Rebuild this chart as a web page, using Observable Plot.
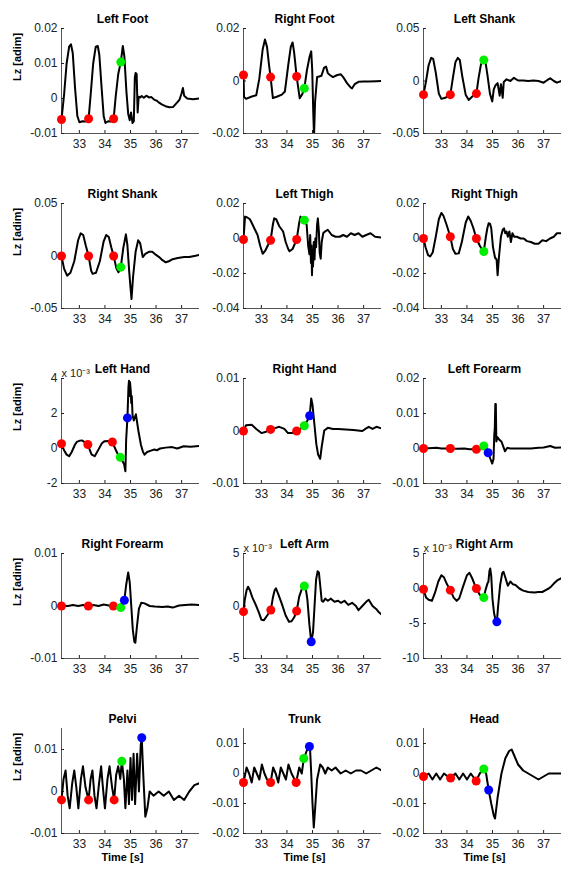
<!DOCTYPE html>
<html><head><meta charset="utf-8">
<script src="https://cdn.jsdelivr.net/npm/d3@7"></script>
<script src="https://cdn.jsdelivr.net/npm/@observablehq/plot@0.6"></script>
<style>
body{margin:0;background:#fff;font-family:"Liberation Sans",Arial,sans-serif;}
#root{position:relative;width:561px;height:869px;overflow:hidden;background:#fff;}
.panel{position:absolute;}
</style></head><body><div id="root"></div>
<script>
// ---- shared axis values ----
const xTicks = [33, 34, 35, 36, 37];
const xDomain = [32.3, 37.7];
const eventKinds = ["e1", "e2", "e3"]; // red, green, blue markers

// ---- Left Foot ----
const leftFootTicks = [-0.01, 0, 0.01, 0.02];
const leftFoot = [[32.3,-0.006],[32.4,0.001],[32.5,0.01],[32.6,0.0148],[32.67,0.0155],[32.74,0.013],[32.83,0.003],[32.92,-0.005],[33.0,-0.0068],[33.12,-0.0065],[33.25,-0.0066],[33.36,-0.0058],[33.44,0.001],[33.54,0.01],[33.64,0.0148],[33.72,0.015],[33.78,0.0125],[33.87,0.003],[33.95,-0.005],[34.02,-0.007],[34.12,-0.0065],[34.22,-0.0066],[34.34,-0.0058],[34.42,0.0005],[34.52,0.007],[34.62,0.0104],[34.7,0.015],[34.76,0.012],[34.84,0.002],[34.91,-0.0044],[34.97,-0.0062],[35.02,-0.004],[35.08,-0.007],[35.13,-0.0065],[35.17,0.006],[35.2,0.0073],[35.24,0.007],[35.28,-0.004],[35.32,0.0005],[35.38,0.0003],[35.44,0.0007],[35.52,0.0002],[35.62,0.0008],[35.72,0.0003],[35.82,0.0004],[35.92,-0.0003],[36.02,-0.0006],[36.12,-0.0012],[36.22,-0.0017],[36.37,-0.0022],[36.52,-0.0025],[36.67,-0.0024],[36.82,-0.0012],[36.92,-0.0003],[37.0,0.0015],[37.05,0.003],[37.1,0.0008],[37.22,0.0],[37.45,-0.0002],[37.7,0.0]];
const leftFootEvents = [["e1",32.3,-0.006],["e1",33.36,-0.0058],["e1",34.34,-0.0058],["e2",34.62,0.0104]];

// ---- Right Foot ----
const rightFootTicks = [-0.02, 0, 0.02];
const rightFoot = [[32.3,0.0023],[32.32,-0.006],[32.4,-0.0068],[32.6,-0.006],[32.8,-0.0054],[32.92,0.001],[33.05,0.012],[33.14,0.0158],[33.22,0.013],[33.3,0.006],[33.36,0.0015],[33.45,-0.0065],[33.6,-0.006],[33.8,-0.0052],[33.92,-0.004],[34.05,0.006],[34.15,0.013],[34.22,0.0147],[34.28,0.011],[34.38,0.0017],[34.5,-0.0066],[34.6,-0.005],[34.68,-0.0028],[34.78,0.004],[34.88,0.009],[34.95,0.0113],[34.99,0.004],[35.03,-0.012],[35.06,-0.021],[35.1,-0.008],[35.18,0.0015],[35.26,0.0017],[35.35,0.002],[35.45,0.005],[35.53,0.0055],[35.6,0.003],[35.68,0.0023],[35.8,0.0015],[35.95,0.0022],[36.1,0.0026],[36.2,0.0015],[36.35,-0.0008],[36.5,-0.0025],[36.55,-0.0028],[36.65,-0.0012],[36.8,-0.0003],[37.0,-0.0002],[37.2,-0.0002],[37.5,-0.0001],[37.7,0.0]];
const rightFootEvents = [["e1",32.3,0.0023],["e1",33.36,0.0015],["e1",34.38,0.0017],["e2",34.68,-0.0028]];

// ---- Left Shank ----
const leftShankTicks = [-0.05, 0, 0.05];
const leftShank = [[32.3,-0.013],[32.4,0.0],[32.5,0.015],[32.6,0.022],[32.68,0.021],[32.78,0.008],[32.9,-0.012],[33.0,-0.017],[33.15,-0.016],[33.35,-0.013],[33.45,0.003],[33.55,0.018],[33.64,0.022],[33.72,0.02],[33.82,0.004],[33.95,-0.013],[34.07,-0.018],[34.2,-0.015],[34.37,-0.012],[34.45,0.002],[34.55,0.016],[34.66,0.020],[34.72,0.019],[34.8,0.006],[34.9,-0.012],[34.99,-0.0195],[35.05,-0.008],[35.12,-0.004],[35.2,-0.002],[35.28,-0.014],[35.33,-0.003],[35.4,-0.016],[35.44,-0.001],[35.55,0.0016],[35.7,0.0],[35.84,0.003],[36.0,0.0005],[36.2,0.0005],[36.4,0.0],[36.6,0.0005],[36.8,0.0],[37.0,-0.0016],[37.15,0.001],[37.26,0.0026],[37.4,0.0],[37.52,-0.0016],[37.7,0.0]];
const leftShankEvents = [["e1",32.3,-0.013],["e1",33.35,-0.013],["e1",34.37,-0.012],["e2",34.66,0.020]];

// ---- Right Shank ----
const rightShankTicks = [-0.05, 0, 0.05];
const rightShank = [[32.3,0.0],[32.4,-0.012],[32.52,-0.0187],[32.65,-0.016],[32.8,-0.005],[32.95,0.015],[33.05,0.0216],[33.15,0.02],[33.25,0.01],[33.36,0.0],[33.46,-0.014],[33.52,-0.017],[33.65,-0.016],[33.8,-0.005],[33.95,0.014],[34.05,0.02],[34.15,0.018],[34.25,0.008],[34.34,0.0],[34.45,-0.012],[34.53,-0.0155],[34.62,-0.0106],[34.72,0.008],[34.82,0.0206],[34.88,0.01],[34.95,-0.015],[35.0,-0.03],[35.04,-0.041],[35.1,-0.02],[35.2,0.004],[35.3,0.015],[35.38,0.012],[35.48,-0.001],[35.58,0.002],[35.72,0.004],[35.85,0.004],[36.0,0.001],[36.12,-0.001],[36.25,-0.004],[36.38,-0.006],[36.5,-0.005],[36.65,-0.003],[36.85,-0.002],[37.1,-0.001],[37.3,-0.001],[37.5,0.0],[37.7,0.001]];
const rightShankEvents = [["e1",32.3,0.0],["e1",33.36,0.0],["e1",34.34,0.0],["e2",34.62,-0.0106]];

// ---- Left Thigh ----
const leftThighTicks = [-0.04, -0.02, 0, 0.02];
const leftThigh = [[32.3,-0.0006],[32.36,0.0125],[32.45,0.012],[32.55,0.011],[32.62,0.009],[32.75,0.005],[32.85,0.002],[32.95,-0.004],[33.05,-0.0087],[33.15,-0.007],[33.25,-0.004],[33.36,-0.001],[33.45,0.008],[33.5,0.0115],[33.58,0.011],[33.7,0.007],[33.85,0.004],[33.95,-0.002],[34.05,-0.006],[34.1,-0.0073],[34.22,-0.006],[34.38,-0.0006],[34.48,0.009],[34.53,0.0125],[34.6,0.011],[34.68,0.0105],[34.77,0.008],[34.83,-0.004],[34.88,-0.009],[34.91,0.002],[34.94,-0.014],[34.96,-0.004],[34.98,-0.021],[35.0,-0.008],[35.02,-0.016],[35.05,-0.002],[35.08,-0.012],[35.11,0.0],[35.14,-0.005],[35.18,0.008],[35.21,0.0115],[35.25,0.004],[35.28,-0.008],[35.32,-0.0115],[35.36,-0.002],[35.42,0.003],[35.47,0.0038],[35.6,0.005],[35.75,0.002],[35.9,0.001],[36.07,0.001],[36.2,0.002],[36.35,0.001],[36.5,0.003],[36.65,0.002],[36.8,0.003],[36.95,0.001],[37.1,0.002],[37.27,0.003],[37.45,0.001],[37.7,0.0005]];
const leftThighEvents = [["e1",32.3,-0.0006],["e1",33.36,-0.001],["e1",34.38,-0.0006],["e2",34.68,0.0105]];

// ---- Right Thigh ----
const rightThighTicks = [-0.04, -0.02, 0, 0.02];
const rightThigh = [[32.3,0.0],[32.38,-0.005],[32.48,-0.0095],[32.56,-0.0103],[32.66,-0.008],[32.78,0.001],[32.9,0.011],[33.0,0.0146],[33.08,0.013],[33.2,0.008],[33.35,0.001],[33.45,-0.006],[33.55,-0.0087],[33.68,-0.0085],[33.8,-0.002],[33.95,0.009],[34.05,0.0126],[34.15,0.01],[34.25,0.006],[34.37,0.0],[34.5,-0.004],[34.58,-0.006],[34.66,-0.0074],[34.74,0.001],[34.8,0.006],[34.85,0.0087],[34.9,0.0085],[34.95,0.006],[35.02,-0.005],[35.1,-0.011],[35.16,-0.012],[35.2,-0.021],[35.25,-0.011],[35.33,0.001],[35.4,0.005],[35.45,0.0058],[35.5,0.003],[35.55,0.004],[35.6,0.001],[35.66,0.004],[35.72,-0.002],[35.78,0.003],[35.85,0.001],[35.95,0.001],[36.1,0.0],[36.22,0.0],[36.35,-0.0015],[36.5,-0.002],[36.65,-0.003],[36.8,-0.003],[36.95,-0.001],[37.1,-0.0015],[37.25,0.0],[37.4,0.001],[37.52,0.003],[37.7,0.003]];
const rightThighEvents = [["e1",32.3,0.0],["e1",33.35,0.001],["e1",34.37,0.0],["e2",34.66,-0.0074]];

// ---- Left Hand (values in units of 10^-3) ----
const leftHandTicks = [-2, 0, 2, 4];
const leftHand = [[32.3,0.27],[32.4,-0.1],[32.5,-0.35],[32.6,-0.44],[32.7,-0.2],[32.82,0.2],[32.9,0.38],[33.02,0.45],[33.1,0.46],[33.22,0.35],[33.33,0.23],[33.41,-0.1],[33.48,-0.35],[33.6,-0.44],[33.75,-0.05],[33.88,0.3],[33.99,0.42],[34.13,0.43],[34.29,0.37],[34.43,-0.1],[34.53,-0.4],[34.6,-0.5],[34.68,-0.7],[34.75,-0.9],[34.8,-1.3],[34.83,0.5],[34.88,1.75],[34.92,3.5],[34.94,3.87],[34.96,3.0],[34.98,3.8],[35.01,3.3],[35.03,2.6],[35.05,3.0],[35.08,1.9],[35.13,1.6],[35.21,1.96],[35.31,1.0],[35.41,0.2],[35.49,-0.2],[35.55,-0.35],[35.65,-0.2],[35.8,-0.12],[35.93,-0.06],[36.03,-0.1],[36.16,0.0],[36.38,0.05],[36.63,0.08],[36.83,0.0],[37.08,0.13],[37.35,0.1],[37.7,0.15]];
const leftHandEvents = [["e1",32.3,0.27],["e1",33.33,0.23],["e1",34.29,0.37],["e2",34.6,-0.5],["e3",34.88,1.75]];

// ---- Right Hand ----
const rightHandTicks = [-0.01, 0, 0.01];
const rightHand = [[32.3,0.0],[32.4,0.0011],[32.62,0.0012],[32.8,0.0004],[33.0,-0.0004],[33.15,-0.0002],[33.36,0.0003],[33.5,0.0005],[33.7,0.0008],[33.9,0.0004],[34.04,-0.0004],[34.2,-0.0004],[34.38,0.0],[34.55,0.0005],[34.68,0.001],[34.8,0.002],[34.89,0.0029],[34.95,0.0062],[35.0,0.005],[35.08,0.001],[35.15,-0.0025],[35.22,-0.0045],[35.3,-0.0053],[35.36,-0.003],[35.46,0.0001],[35.6,0.0006],[35.8,0.0004],[36.0,0.0004],[36.3,0.0003],[36.6,0.0002],[36.95,0.0],[37.1,0.0005],[37.2,0.0008],[37.35,0.0004],[37.5,0.0008],[37.7,0.0005]];
const rightHandEvents = [["e1",32.3,0.0],["e1",33.36,0.0003],["e1",34.38,0.0],["e2",34.68,0.001],["e3",34.89,0.0029]];

// ---- Left Forearm ----
const leftForearmTicks = [-0.01, 0, 0.01, 0.02];
const leftForearm = [[32.3,0.0],[32.5,0.0001],[32.8,0.0002],[33.0,0.0],[33.35,0.0],[33.6,-0.0001],[33.9,0.0],[34.1,-0.0002],[34.37,-0.0002],[34.5,0.0],[34.66,0.0007],[34.75,0.0003],[34.83,-0.0012],[34.92,-0.003],[34.99,-0.0043],[35.04,-0.003],[35.07,0.004],[35.09,0.0058],[35.11,0.0127],[35.13,0.0127],[35.15,0.002],[35.2,0.0032],[35.28,0.0024],[35.35,0.002],[35.42,0.0006],[35.49,-0.0008],[35.58,0.0002],[35.7,0.0],[35.9,0.0],[36.2,0.0],[36.5,0.0],[36.8,0.0002],[37.0,0.0003],[37.26,0.0007],[37.45,0.0002],[37.7,0.0003]];
const leftForearmEvents = [["e1",32.3,0.0],["e1",33.35,0.0],["e1",34.37,-0.0002],["e2",34.66,0.0007],["e3",34.83,-0.0012]];

// ---- Right Forearm ----
const rightForearmTicks = [-0.01, 0, 0.01];
const rightForearm = [[32.3,0.0],[32.55,0.0],[32.75,0.0002],[32.95,0.0],[33.15,0.0002],[33.35,0.0],[33.55,0.0002],[33.75,0.0],[33.95,0.0003],[34.15,0.0001],[34.33,0.0],[34.5,0.0],[34.62,-0.0003],[34.7,0.0004],[34.76,0.0011],[34.83,0.004],[34.91,0.0064],[34.97,0.0045],[35.03,0.0],[35.09,-0.0045],[35.15,-0.0068],[35.19,-0.007],[35.25,-0.004],[35.33,-0.0005],[35.42,0.0006],[35.55,0.0005],[35.75,0.0],[35.95,-0.0001],[36.25,-0.0002],[36.45,-0.0001],[36.65,-0.0003],[36.9,0.0001],[37.15,0.0002],[37.4,0.0003],[37.7,0.0002]];
const rightForearmEvents = [["e1",32.3,0.0],["e1",33.35,0.0],["e1",34.33,0.0],["e2",34.62,-0.0003],["e3",34.76,0.0011]];

// ---- Left Arm (values in units of 10^-3) ----
const leftArmTicks = [-5, 0, 5];
const leftArm = [[32.3,-0.54],[32.35,0.6],[32.42,1.5],[32.48,1.84],[32.55,1.5],[32.65,0.8],[32.78,0.1],[32.9,-0.6],[33.0,-1.3],[33.1,-1.35],[33.2,-1.0],[33.37,-0.38],[33.45,0.8],[33.52,1.5],[33.57,1.68],[33.65,1.2],[33.8,0.2],[33.95,-0.9],[34.08,-1.5],[34.18,-1.45],[34.28,-1.1],[34.38,-0.48],[34.48,0.9],[34.58,1.6],[34.68,1.9],[34.74,1.6],[34.8,0.6],[34.88,-1.8],[34.95,-3.4],[35.02,-2.5],[35.08,0.0],[35.14,2.5],[35.2,3.3],[35.25,3.2],[35.3,2.0],[35.36,0.5],[35.42,0.4],[35.5,0.7],[35.6,0.5],[35.72,0.7],[35.86,0.4],[36.0,0.5],[36.12,0.3],[36.25,0.5],[36.4,0.1],[36.55,0.3],[36.7,0.0],[36.8,-0.4],[36.95,0.0],[37.1,0.4],[37.2,0.6],[37.35,0.0],[37.5,-0.3],[37.6,-0.6],[37.7,-0.8]];
const leftArmEvents = [["e1",32.3,-0.54],["e1",33.37,-0.38],["e1",34.38,-0.48],["e2",34.68,1.9],["e3",34.95,-3.4]];

// ---- Right Arm (values in units of 10^-3) ----
const rightArmTicks = [-10, -5, 0, 5];
const rightArm = [[32.3,-0.1],[32.4,-1.3],[32.5,-1.6],[32.63,-1.76],[32.75,-0.6],[32.88,1.0],[33.0,1.9],[33.1,1.6],[33.22,0.6],[33.35,-0.24],[33.48,-1.3],[33.6,-1.76],[33.7,-1.4],[33.85,0.3],[34.0,1.9],[34.1,2.24],[34.2,1.5],[34.3,0.6],[34.37,0.0],[34.5,-0.9],[34.6,-1.2],[34.66,-1.3],[34.72,-0.3],[34.8,0.7],[34.84,0.95],[34.88,2.5],[34.91,2.86],[34.95,1.8],[35.0,-1.5],[35.06,-3.5],[35.12,-4.5],[35.17,-4.8],[35.22,-2.5],[35.3,0.5],[35.38,2.2],[35.43,2.4],[35.5,1.6],[35.6,0.4],[35.7,1.0],[35.8,0.6],[35.9,0.5],[36.05,0.0],[36.2,-0.3],[36.4,-0.5],[36.64,-0.57],[36.8,-0.5],[36.95,-0.5],[37.1,-0.2],[37.2,0.0],[37.3,0.3],[37.4,0.7],[37.55,1.2],[37.7,1.5]];
const rightArmEvents = [["e1",32.3,-0.1],["e1",33.35,-0.24],["e1",34.37,0.0],["e2",34.66,-1.3],["e3",35.17,-4.76]];

// ---- Pelvi ----
const pelviTicks = [-0.01, 0, 0.01];
const pelviTop = 0.015;
const pelvi = [[32.3,-0.002],[32.38,0.003],[32.46,0.005],[32.54,-0.001],[32.62,-0.004],[32.72,0.002],[32.8,0.005],[32.88,0.001],[32.96,-0.004],[33.06,0.003],[33.14,0.006],[33.24,0.001],[33.36,-0.002],[33.44,0.003],[33.51,0.005],[33.59,-0.001],[33.67,-0.004],[33.77,0.002],[33.85,0.006],[33.92,0.001],[34.0,-0.004],[34.1,0.003],[34.18,0.006],[34.28,0.001],[34.36,-0.002],[34.44,0.004],[34.52,0.006],[34.6,0.003],[34.66,0.0072],[34.74,0.003],[34.8,-0.004],[34.88,0.005],[34.94,-0.003],[35.0,0.008],[35.06,-0.002],[35.12,0.009],[35.18,-0.003],[35.26,0.009],[35.33,0.0],[35.4,0.011],[35.44,0.0128],[35.5,0.004],[35.58,-0.006],[35.66,-0.004],[35.75,0.0],[35.9,-0.001],[36.1,0.0],[36.3,-0.001],[36.5,0.0],[36.7,-0.002],[36.9,-0.001],[37.1,-0.002],[37.3,0.0],[37.5,0.0015],[37.7,0.002]];
const pelviEvents = [["e1",32.3,-0.002],["e1",33.36,-0.002],["e1",34.36,-0.002],["e2",34.66,0.0072],["e3",35.44,0.0128]];

// ---- Trunk ----
const trunkTicks = [-0.02, -0.01, 0, 0.01];
const trunkTop = 0.015;
const trunk = [[32.3,-0.003],[32.42,0.002],[32.52,0.0],[32.62,-0.003],[32.72,0.002],[32.82,0.0],[32.92,-0.002],[33.02,0.003],[33.12,0.0],[33.22,-0.002],[33.36,-0.003],[33.46,0.002],[33.56,0.0],[33.66,-0.003],[33.76,0.002],[33.86,0.0],[33.96,-0.002],[34.06,0.003],[34.18,0.0],[34.36,-0.003],[34.48,0.002],[34.58,0.0],[34.66,0.005],[34.75,0.007],[34.84,0.009],[34.9,0.009],[34.95,0.0],[35.0,-0.01],[35.05,-0.018],[35.1,-0.012],[35.18,-0.002],[35.3,0.003],[35.4,0.002],[35.5,0.0],[35.6,0.002],[35.75,0.001],[35.9,0.002],[36.1,0.0],[36.3,0.001],[36.5,0.0],[36.7,0.001],[36.9,0.001],[37.1,0.0],[37.3,0.001],[37.5,0.002],[37.7,0.001]];
const trunkEvents = [["e1",32.3,-0.003],["e1",33.36,-0.003],["e1",34.36,-0.003],["e2",34.66,0.005],["e3",34.88,0.009]];

// ---- Head ----
const headTicks = [-0.02, -0.01, 0, 0.01];
const headTop = 0.015;
const head = [[32.3,-0.001],[32.5,0.0],[32.65,-0.002],[32.8,0.0],[32.95,-0.002],[33.1,0.0],[33.25,-0.001],[33.36,-0.0015],[33.55,0.0],[33.7,-0.002],[33.85,0.0],[34.0,-0.002],[34.15,0.0],[34.36,-0.0025],[34.5,0.0],[34.66,0.0015],[34.75,0.0],[34.85,-0.0055],[34.95,-0.01],[35.05,-0.014],[35.1,-0.015],[35.2,-0.008],[35.35,0.0],[35.5,0.005],[35.65,0.0075],[35.75,0.008],[35.85,0.006],[36.0,0.003],[36.2,0.001],[36.4,0.0],[36.6,-0.001],[36.8,-0.002],[37.0,-0.001],[37.2,0.0],[37.4,0.0],[37.7,0.0]];
const headEvents = [["e1",32.3,-0.001],["e1",33.36,-0.0015],["e1",34.36,-0.0025],["e2",34.66,0.0015],["e3",34.85,-0.0055]];

const panels = [
  {title:"Left Foot", series:leftFoot, events:leftFootEvents, ticks:leftFootTicks},
  {title:"Right Foot", series:rightFoot, events:rightFootEvents, ticks:rightFootTicks},
  {title:"Left Shank", series:leftShank, events:leftShankEvents, ticks:leftShankTicks},
  {title:"Right Shank", series:rightShank, events:rightShankEvents, ticks:rightShankTicks},
  {title:"Left Thigh", series:leftThigh, events:leftThighEvents, ticks:leftThighTicks},
  {title:"Right Thigh", series:rightThigh, events:rightThighEvents, ticks:rightThighTicks},
  {title:"Left Hand", series:leftHand, events:leftHandEvents, ticks:leftHandTicks, exp:true},
  {title:"Right Hand", series:rightHand, events:rightHandEvents, ticks:rightHandTicks},
  {title:"Left Forearm", series:leftForearm, events:leftForearmEvents, ticks:leftForearmTicks},
  {title:"Right Forearm", series:rightForearm, events:rightForearmEvents, ticks:rightForearmTicks},
  {title:"Left Arm", series:leftArm, events:leftArmEvents, ticks:leftArmTicks, exp:true},
  {title:"Right Arm", series:rightArm, events:rightArmEvents, ticks:rightArmTicks, exp:true},
  {title:"Pelvi", series:pelvi, events:pelviEvents, ticks:pelviTicks, top:pelviTop},
  {title:"Trunk", series:trunk, events:trunkEvents, ticks:trunkTicks, top:trunkTop},
  {title:"Head", series:head, events:headEvents, ticks:headTicks, top:headTop}
];

const colLeft = [61, 243, 423], rowTop = [28, 203, 378, 553, 728];
const PW = 138, PH = 105, ML = 61, MT = 30, MB = 42;
const fmt = d => String(+(+d).toFixed(6));
const root = document.getElementById("root");

panels.forEach((p, i) => {
  const c = i % 3, r = Math.floor(i / 3);
  const yDomain = [d3.min(p.ticks), p.top !== undefined ? p.top : d3.max(p.ticks)];
  const MR = c === 2 ? 0 : 4;
  const marks = [
    Plot.ruleX([xDomain[0]], {stroke: "#555", strokeWidth: 1}),
    Plot.ruleY([yDomain[0]], {stroke: "#555", strokeWidth: 1}),
    Plot.axisX(xTicks, {anchor: "bottom", tickSize: -3, tickPadding: 9, label: null, fontSize: 12, color: "#222"}),
    Plot.axisY(p.ticks, {anchor: "left", tickSize: -3, tickPadding: 7, label: null, fontSize: 12, color: "#222", tickFormat: fmt}),
    Plot.line(p.series, {x: d => d[0], y: d => d[1], stroke: "black", strokeWidth: 2, clip: true}),
    Plot.dot(p.events, {x: d => d[1], y: d => d[2], fill: d => d[0], r: 4.5}),
    Plot.text([p.title], {frameAnchor: "top", dy: -14, dx: -8, fontWeight: "bold", fontSize: 12, fill: "black"})
  ];
  if (p.exp) marks.push(Plot.text(["x 10\u207B\u00B3"], {frameAnchor: "top-left", textAnchor: "start", dy: -9, dx: 0, fontSize: 11, fill: "#222"}));
  if (c === 0) marks.push(Plot.text(["Lz [adim]"], {frameAnchor: "left", dx: -44, rotate: -90, fontWeight: "bold", fontSize: 11, fill: "black"}));
  if (r === 4) marks.push(Plot.text(["Time [s]"], {frameAnchor: "bottom", dy: 27, dx: -8, fontWeight: "bold", fontSize: 11, fill: "black"}));
  const svg = Plot.plot({
    width: ML + PW + MR, height: MT + PH + MB,
    marginLeft: ML, marginRight: MR, marginTop: MT, marginBottom: MB,
    style: {background: "transparent", overflow: "visible", fontFamily: "Liberation Sans, Arial, sans-serif"},
    x: {domain: xDomain},
    y: {domain: yDomain},
    color: {domain: eventKinds, range: ["#ff0000", "#00ee00", "#0000ff"]},
    marks
  });
  const div = document.createElement("div");
  div.className = "panel";
  div.style.left = (colLeft[c] - ML) + "px";
  div.style.top = (rowTop[r] - MT) + "px";
  div.appendChild(svg);
  root.appendChild(div);
});
</script></body></html>
